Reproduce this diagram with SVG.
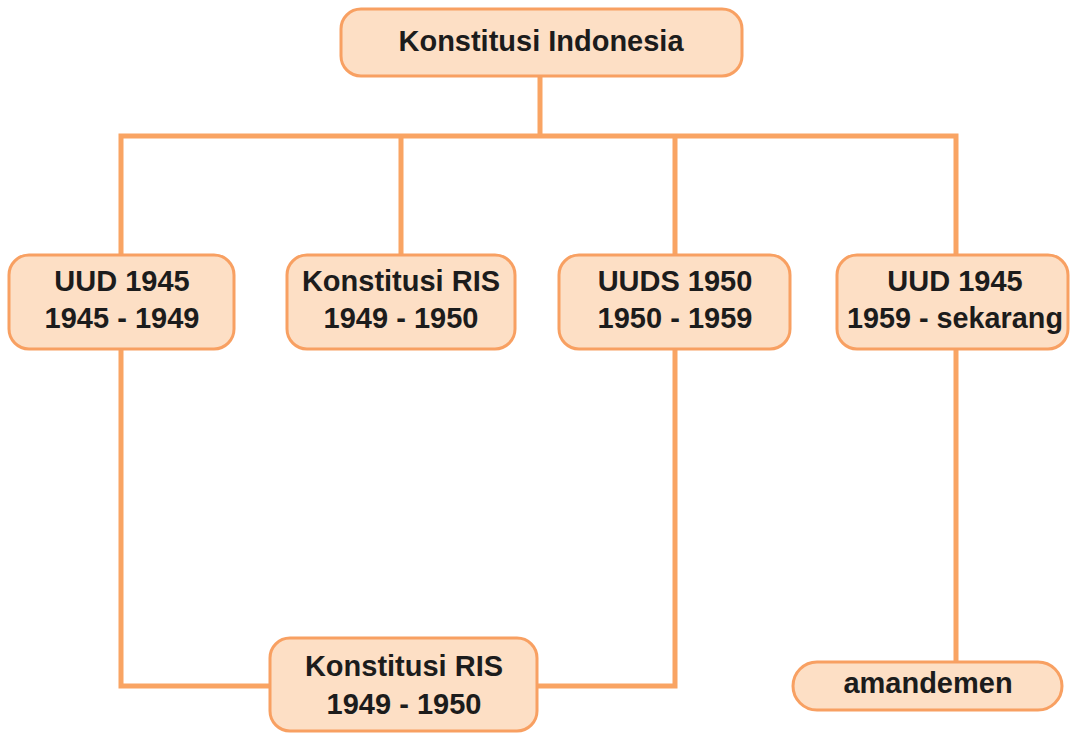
<svg xmlns="http://www.w3.org/2000/svg" width="1071" height="733" viewBox="0 0 1071 733">
<style>
.box{fill:#FDDFC5;stroke:#F8A062;stroke-width:3}
.ln{fill:none;stroke:#F9A463;stroke-width:5}
text{font-family:"Liberation Sans",Arial,sans-serif;font-weight:bold;font-size:29px;fill:#1c1c1c;text-anchor:middle}
</style>
<rect width="1071" height="733" fill="#ffffff"/>
<g id="connectors">
<path class="ln" d="M540 76V136M121 136H956M121 136V255M401 136V255M675 136V255M956 136V255" stroke-linecap="square"/>
<path class="ln" d="M121 349V686H270M675 349V686H537M956 350V662"/>
</g>
<g id="n-konstitusi-indonesia">
<rect class="box" x="341" y="9" width="401" height="67" rx="20"/>
<text x="541" y="51" textLength="285" lengthAdjust="spacingAndGlyphs">Konstitusi Indonesia</text>
</g>
<g id="n-uud1945a">
<rect class="box" x="9" y="255" width="225" height="94" rx="20"/>
<text x="122" y="291">UUD 1945</text>
<text x="122" y="328">1945 - 1949</text>
</g>
<g id="n-ris-top">
<rect class="box" x="287" y="255" width="228" height="94" rx="20"/>
<text x="401" y="291">Konstitusi RIS</text>
<text x="401" y="328">1949 - 1950</text>
</g>
<g id="n-uuds1950">
<rect class="box" x="559" y="255" width="231" height="94" rx="20"/>
<text x="675" y="291">UUDS 1950</text>
<text x="675" y="328">1950 - 1959</text>
</g>
<g id="n-uud1945b">
<rect class="box" x="837" y="255" width="231" height="94" rx="20"/>
<text x="955" y="291">UUD 1945</text>
<text x="955" y="328" textLength="216" lengthAdjust="spacingAndGlyphs">1959 - sekarang</text>
</g>
<g id="n-ris-bottom">
<rect class="box" x="270" y="638" width="267" height="93" rx="20"/>
<text x="404" y="676">Konstitusi RIS</text>
<text x="404" y="714">1949 - 1950</text>
</g>
<g id="n-amandemen">
<rect class="box" x="793" y="662" width="269" height="48" rx="24"/>
<text x="928" y="693">amandemen</text>
</g>
</svg>
